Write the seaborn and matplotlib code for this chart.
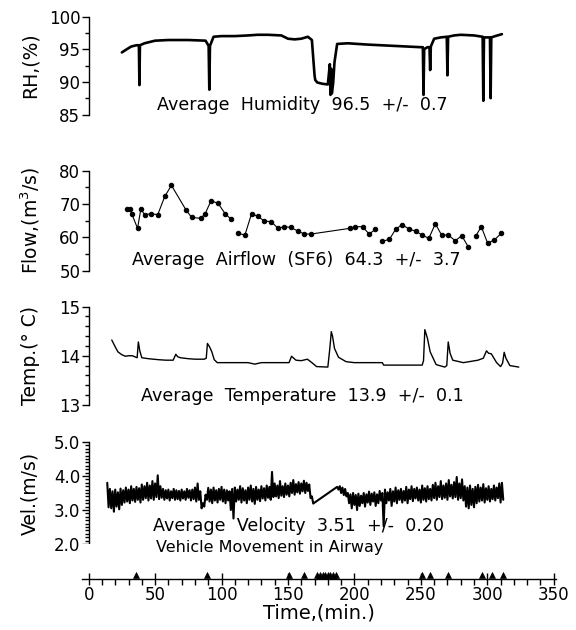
import numpy as np
import pandas as pd
import matplotlib
matplotlib.use("Agg")
import matplotlib.pyplot as plt
from matplotlib.ticker import MultipleLocator, FormatStrFormatter
import seaborn as sns

# ---------------- data ----------------
# Relative humidity (%)
rh_t = [25, 28, 32, 36, 37.8, 38.2, 38.6, 42, 50, 60, 75, 88, 90.3, 90.8, 91.3, 94, 100, 110,
        120, 127, 135, 145, 150, 155, 160, 165, 168, 170, 170.5, 172, 176, 180, 181.5, 182,
        182.5, 183, 184, 185, 187, 195, 210, 230, 250, 251.5, 252, 252.5, 255, 256.5, 257,
        257.5, 260, 265, 269.5, 270, 270.5, 275, 280, 290, 296.5, 297, 297.5, 302, 302.5,
        303, 306, 311]
rh_v = [94.5, 94.9, 95.4, 95.6, 95.6, 89.5, 95.6, 95.9, 96.3, 96.4, 96.4, 96.3, 95.5, 88.8,
        95.5, 96.9, 97.0, 97.0, 97.1, 97.2, 97.2, 97.1, 96.6, 96.5, 96.6, 96.9, 96.4, 91.0,
        90.3, 89.9, 89.7, 89.6, 92.7, 88.0, 92.0, 88.2, 89.8, 93.0, 95.8, 95.9, 95.7, 95.5,
        95.3, 95.3, 88.0, 95.0, 95.3, 95.3, 91.8, 95.4, 96.6, 96.8, 96.9, 91.0, 96.9, 97.1,
        97.2, 97.1, 96.9, 87.1, 96.8, 96.8, 87.5, 96.8, 97.0, 97.3]

# Airflow (SF6), m3/s
flow_t = [28.5, 31.0, 32.4, 36.8, 39.3, 42.1, 47.0, 52.0, 57.3, 62.3, 73.3, 77.5, 84.4, 87.7,
          92.1, 97.4, 102.9, 107.4, 112.6, 117.6, 122.6, 127.3, 132.3, 137.5, 142.5, 147.2,
          152.2, 157.7, 162.4, 167.4, 196.4, 200.6, 206.1, 211.1, 215.8, 220.8, 226.3, 231.0,
          235.7, 241.3, 246.3, 251.0, 256.0, 260.9, 265.6, 270.6, 275.9, 280.8, 285.6, 291.4,
          295.5, 300.2, 305.2, 310.5]
flow_v = [68.4, 68.4, 67.1, 62.7, 68.5, 66.8, 67.1, 66.8, 72.3, 75.6, 68.2, 66.0, 65.7, 67.1,
          71.0, 70.2, 67.0, 65.4, 61.2, 60.7, 67.1, 66.3, 64.9, 64.7, 62.7, 63.2, 63.0, 61.8,
          61.0, 61.0, 62.7, 63.2, 63.2, 61.0, 62.4, 58.8, 59.4, 62.4, 63.8, 62.5, 61.8, 60.7,
          59.7, 64.1, 60.7, 60.7, 59.0, 60.5, 57.2, 60.5, 63.2, 58.3, 59.2, 61.2]
flow_seg = [0] * 18 + [1] * 17 + [2] * 14 + [3] * 5

# Temperature (deg C)
temp_t = [17.4, 20, 22, 25, 27.7, 30, 33, 35.5, 36.5, 37.4, 38.5, 40, 45, 52.6, 58, 63.6, 65.6,
          67, 69, 75, 80, 87, 88.5, 89.4, 91, 92.7, 94.5, 96.8, 110, 120, 125, 130, 140, 150.8,
          152.7, 156, 160, 164.6, 168, 171.5, 180, 181.5, 182.6, 183.5, 185, 188, 193.7, 200,
          221, 222, 251, 252, 253, 255, 257, 261.5, 268, 269.5, 270.6, 272, 274, 282, 293,
          297, 299.4, 301, 303, 305, 307, 310, 311.5, 312.7, 314, 317, 323.7]
temp_v = [14.32, 14.18, 14.08, 14.02, 13.99, 14.00, 14.00, 13.97, 13.96, 14.28, 14.10, 13.96,
          13.94, 13.92, 13.91, 13.91, 14.03, 13.98, 13.96, 13.94, 13.93, 13.93, 13.95, 14.25,
          14.18, 14.08, 13.92, 13.86, 13.86, 13.86, 13.83, 13.86, 13.86, 13.86, 13.99, 13.91,
          13.90, 13.93, 13.86, 13.78, 13.77, 14.15, 14.49, 14.40, 14.15, 13.97, 13.88, 13.86,
          13.86, 13.81, 13.81, 13.90, 14.53, 14.35, 14.08, 13.82, 13.77, 13.80, 14.28, 14.05,
          13.91, 13.86, 13.91, 13.95, 14.10, 14.05, 14.04, 13.95, 13.86, 13.78, 13.85, 14.07,
          13.95, 13.80, 13.77]

# Velocity (m/s): upper / lower envelope of the noisy trace every 2 min
velA_t = list(range(14, 169, 2))
velA_hi = [3.80, 3.62, 3.55, 3.60, 3.52, 3.63, 3.58, 3.66, 3.60, 3.70, 3.62, 3.68, 3.64, 3.75,
           3.70, 3.80, 3.72, 3.85, 3.78, 4.02, 3.70, 3.62, 3.58, 3.60, 3.55, 3.62, 3.58, 3.56,
           3.60, 3.55, 3.62, 3.58, 3.60, 3.66, 3.78, 3.55, 3.20, 3.45, 3.65, 3.60, 3.66, 3.58,
           3.62, 3.68, 3.60, 3.58, 3.55, 3.62, 3.66, 3.60, 3.70, 3.64, 3.58, 3.66, 3.72, 3.62,
           3.68, 3.60, 3.70, 3.64, 3.72, 3.68, 4.12, 3.78, 3.72, 3.85, 3.70, 3.78, 3.72, 3.80,
           3.88, 3.76, 3.82, 3.78, 3.86, 3.80, 3.75, 3.40]
velA_lo = [3.08, 3.05, 2.95, 3.10, 3.02, 3.15, 3.22, 3.25, 3.20, 3.28, 3.24, 3.30, 3.22, 3.30,
           3.35, 3.28, 3.34, 3.30, 3.38, 3.32, 3.36, 3.30, 3.34, 3.28, 3.35, 3.30, 3.32, 3.28,
           3.34, 3.30, 3.36, 3.28, 3.32, 3.25, 3.30, 3.05, 3.10, 3.30, 3.25, 3.20, 3.28, 3.22,
           3.30, 3.25, 3.20, 3.28, 3.00, 2.75, 3.25, 3.30, 3.22, 3.28, 3.20, 3.30, 3.25, 3.18,
           3.30, 3.26, 3.34, 3.28, 3.36, 3.30, 3.38, 3.40, 3.35, 3.42, 3.38, 3.45, 3.40, 3.50,
           3.45, 3.52, 3.48, 3.55, 3.50, 3.56, 3.35, 3.19]
velB_t = list(range(187, 312, 2))
velB_hi = [3.68, 3.70, 3.66, 3.62, 3.50, 3.46, 3.50, 3.44, 3.48, 3.42, 3.50, 3.46, 3.54, 3.48,
           3.52, 3.46, 3.56, 3.50, 3.60, 3.52, 3.62, 3.55, 3.66, 3.58, 3.62, 3.56, 3.68, 3.60,
           3.70, 3.62, 3.66, 3.60, 3.72, 3.64, 3.70, 3.62, 3.74, 3.80, 3.70, 3.85, 3.72, 3.78,
           3.88, 3.74, 3.82, 3.97, 3.78, 3.90, 3.70, 3.66, 3.72, 3.62, 3.68, 3.74, 3.66, 3.76,
           3.64, 3.70, 3.62, 3.72, 3.66, 3.78, 3.80]
velB_lo = [3.60, 3.50, 3.44, 3.40, 3.20, 3.05, 3.15, 3.00, 3.12, 3.20, 3.10, 3.22, 3.15, 3.25,
           3.12, 3.20, 3.28, 2.52, 3.20, 3.28, 3.12, 3.25, 3.20, 3.30, 3.22, 3.28, 3.20, 3.32,
           3.26, 3.34, 3.28, 3.22, 3.30, 3.25, 3.32, 3.28, 3.35, 3.30, 3.38, 3.32, 3.36, 3.30,
           3.40, 3.34, 3.38, 3.30, 3.35, 3.28, 3.10, 3.05, 3.15, 3.08, 3.20, 3.25, 3.28, 3.22,
           3.30, 3.25, 3.32, 3.28, 3.35, 3.22, 3.30]

# Vehicle movement events (min)
veh_t = [36, 89, 150.5, 162, 172, 174, 176, 178, 180, 182, 184, 186, 251, 257, 270.5, 296,
         303.5, 311.5]

x_major = [0, 50, 100, 150, 200, 250, 300, 350]

# ---------------- figure ----------------
sns.set_style("ticks")
plt.rcParams["font.family"] = ["DejaVu Sans"]
for key in ["text.color", "axes.labelcolor", "xtick.color", "ytick.color", "axes.edgecolor"]:
    plt.rcParams[key] = "black"

fig = plt.figure(figsize=(5.76, 6.30), dpi=100)
FW, FH = 576.0, 630.0
LEFT_PX, WIDTH_PX = 82.0, 474.4
XLIM = (-5, 352)


def add_panel(bottom_px, top_px):
    return fig.add_axes([LEFT_PX / FW, 1 - bottom_px / FH, WIDTH_PX / FW,
                         (bottom_px - top_px) / FH])


def style(ax, ylim, major, minor, label, fmt=None):
    ax.set_xlim(*XLIM)
    ax.set_ylim(*ylim)
    for s in ["top", "right", "bottom"]:
        ax.spines[s].set_visible(False)
    ax.spines["left"].set_position(("data", 0))
    ax.spines["left"].set_linewidth(1.0)
    ax.set_xticks([])
    ax.set_xlabel("")
    ax.yaxis.set_major_locator(MultipleLocator(major))
    ax.yaxis.set_minor_locator(MultipleLocator(minor))
    if fmt:
        ax.yaxis.set_major_formatter(FormatStrFormatter(fmt))
    ax.tick_params(axis="y", which="major", direction="out", length=5, width=1,
                   labelsize=12, pad=1)
    ax.tick_params(axis="y", which="minor", direction="out", length=3, width=1)
    ax.set_ylabel(label, fontsize=13.5, va="center", ha="center")
    ax.yaxis.set_label_coords((30 - LEFT_PX) / WIDTH_PX, 0.5)


ANN = 12.6

# --- humidity
ax1 = add_panel(114.5, 16.5)
sns.lineplot(x=rh_t, y=rh_v, ax=ax1, color="black", lw=1.9, estimator=None, sort=False)
style(ax1, (85, 100), 5, 2.5, "RH,(%)")
ax1.text(161, 86.4, "Average  Humidity  96.5  +/-  0.7", ha="center", va="center", fontsize=ANN)

# --- airflow
ax2 = add_panel(270.7, 170.7)
flow_df = pd.DataFrame({"t": flow_t, "v": flow_v, "seg": flow_seg})
sns.lineplot(data=flow_df, x="t", y="v", units="seg", estimator=None, ax=ax2, color="black",
             lw=0.8, marker="o", markersize=3.2, markeredgecolor="black", sort=False)
style(ax2, (50, 80), 10, 5, "Flow,(m$^3$/s)")
ax2.text(156, 53.3, "Average  Airflow  (SF6)  64.3  +/-  3.7", ha="center", va="center",
         fontsize=ANN)

# --- temperature
ax3 = add_panel(405, 306.5)
sns.lineplot(x=temp_t, y=temp_v, ax=ax3, color="black", lw=1.0, estimator=None, sort=False)
style(ax3, (13, 15), 1, 0.2, "Temp.(° C)")
ax3.text(160.5, 13.19, "Average  Temperature  13.9  +/-  0.1", ha="center", va="center",
         fontsize=ANN)

# --- velocity
vx, vy = [], []
for tt, hi, lo in zip(velA_t + velB_t, velA_hi + velB_hi, velA_lo + velB_lo):
    vx += [tt, tt + 1]
    vy += [hi, lo]
ax4 = add_panel(544, 442)
sns.lineplot(x=vx, y=vy, ax=ax4, color="black", lw=1.5, estimator=None, sort=False)
style(ax4, (2, 5), 1, 0.1, "Vel.(m/s)", fmt="%.1f")
ax4.text(158, 2.54, "Average  Velocity  3.51  +/-  0.20", ha="center", va="center",
         fontsize=ANN)

# --- vehicle movement axis
ax5 = fig.add_axes([LEFT_PX / FW, 1 - 578.6 / FH, WIDTH_PX / FW, 35 / FH])
veh_y = [0.1] * len(veh_t)
sns.scatterplot(x=veh_t, y=veh_y, ax=ax5, marker="^", s=18, color="black",
                edgecolor="black", linewidth=0.5)
ax5.set_xlim(*XLIM)
ax5.set_ylim(0, 1)
for s in ["top", "right", "left"]:
    ax5.spines[s].set_visible(False)
ax5.spines["bottom"].set_linewidth(1.0)
ax5.set_yticks([])
ax5.set_ylabel("")
ax5.set_xticks(x_major)
ax5.xaxis.set_minor_locator(MultipleLocator(10))
ax5.tick_params(axis="x", which="major", direction="inout", length=8, width=1,
                labelsize=12, pad=1)
ax5.tick_params(axis="x", which="minor", direction="out", length=4, width=1)
ax5.set_xlabel("Time,(min.)", fontsize=14, labelpad=0)
ax5.text(136.5, 0.88, "Vehicle Movement in Airway", ha="center", va="center",
         fontsize=11.5, transform=ax5.get_xaxis_transform())

fig.savefig("out.png", dpi=100)
